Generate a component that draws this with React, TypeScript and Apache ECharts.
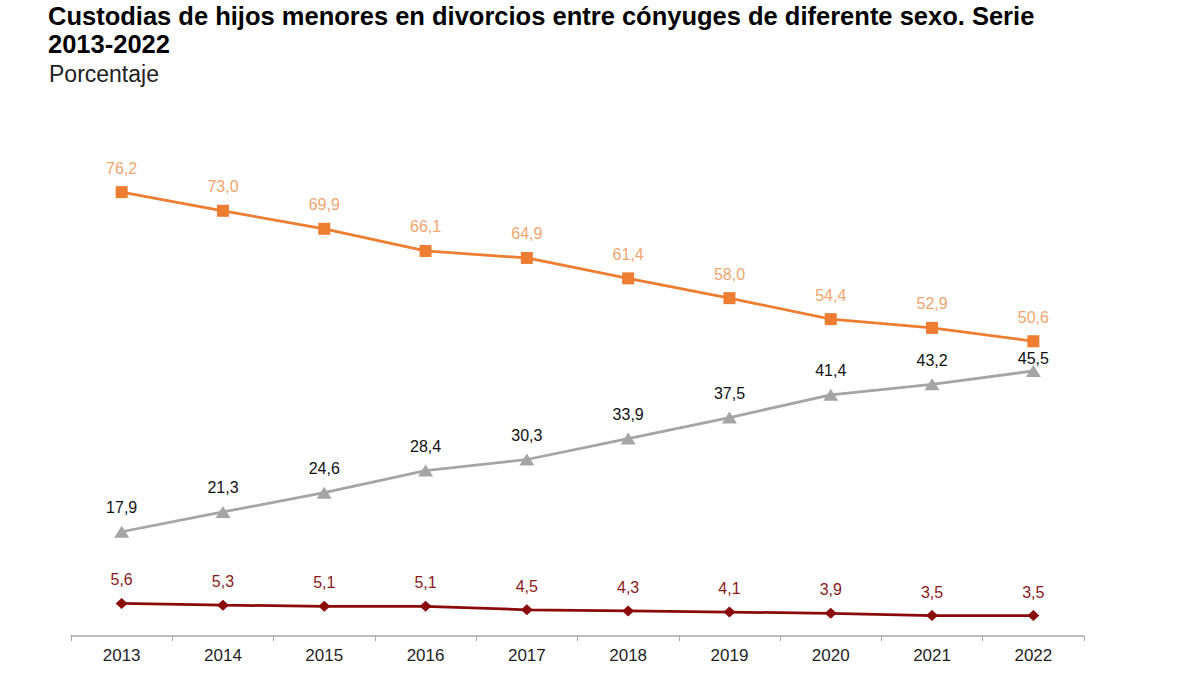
import React, { useEffect, useRef } from "react";
import * as echarts from "echarts";

const years = ["2013", "2014", "2015", "2016", "2017", "2018", "2019", "2020", "2021", "2022"];
const madre = [76.2, 73.0, 69.9, 66.1, 64.9, 61.4, 58.0, 54.4, 52.9, 50.6];
const compartida = [17.9, 21.3, 24.6, 28.4, 30.3, 33.9, 37.5, 41.4, 43.2, 45.5];
const padre = [5.6, 5.3, 5.1, 5.1, 4.5, 4.3, 4.1, 3.9, 3.5, 3.5];

const fmt = (v: number) => v.toFixed(1).replace(".", ",");
const FONT = "Liberation Sans, Arial, sans-serif";

export default function App() {
  const ref = useRef<HTMLDivElement>(null);
  useEffect(() => {
    if (!ref.current) return;
    const chart = echarts.init(ref.current, undefined, { renderer: "svg" });
    chart.setOption({
      animation: false,
      backgroundColor: "#ffffff",
      title: [
        {
          text: "Custodias de hijos menores en divorcios entre cónyuges de diferente sexo. Serie\n2013-2022",
          left: 48,
          top: 2,
          padding: 0,
          textStyle: { fontFamily: FONT, fontWeight: "bold", fontSize: 25.5, color: "#000", lineHeight: 28 },
        },
        {
          text: "Porcentaje",
          left: 49,
          top: 62,
          padding: 0,
          textStyle: { fontFamily: FONT, fontWeight: "normal", fontSize: 23, color: "#222" },
        },
      ],
      grid: { left: 71, right: 115, top: 170, bottom: 38, containLabel: false },
      xAxis: {
        type: "category",
        data: years,
        boundaryGap: true,
        axisLine: { lineStyle: { color: "#a6a6a6", width: 1.5 } },
        axisTick: { show: true, length: 5, lineStyle: { color: "#a6a6a6" } },
        axisLabel: { color: "#1f1f1f", fontSize: 17, fontFamily: FONT, margin: 11 },
      },
      yAxis: {
        type: "value",
        min: 0,
        max: 80,
        show: false,
        splitLine: { show: false },
      },
      series: [
        {
          name: "Madre",
          type: "line",
          data: madre,
          symbol: "rect",
          symbolSize: 12,
          itemStyle: { color: "#ed7d31" },
          lineStyle: { color: "#ed7d31", width: 2.75 },
          label: {
            show: true,
            position: "top",
            distance: 10,
            color: "#f0a56e",
            fontSize: 16,
            fontFamily: FONT,
            formatter: (p: any) => fmt(p.value),
          },
        },
        {
          name: "Compartida",
          type: "line",
          data: compartida.map((v, i) =>
            i === compartida.length - 1 ? { value: v, label: { distance: -2 } } : v
          ),
          symbol: "triangle",
          symbolSize: [15, 12],
          itemStyle: { color: "#a5a5a5" },
          lineStyle: { color: "#a5a5a5", width: 2.75 },
          label: {
            show: true,
            position: "top",
            distance: 10,
            color: "#111",
            fontSize: 16,
            fontFamily: FONT,
            formatter: (p: any) => fmt(p.value),
          },
        },
        {
          name: "Padre",
          type: "line",
          data: padre,
          symbol: "diamond",
          symbolSize: [12, 11],
          itemStyle: { color: "#8b0a0a" },
          lineStyle: { color: "#8b0a0a", width: 2.75 },
          label: {
            show: true,
            position: "top",
            distance: 10,
            color: "#8b1a1a",
            fontSize: 16,
            fontFamily: FONT,
            formatter: (p: any) => fmt(p.value),
          },
        },
      ],
    });
    return () => chart.dispose();
  }, []);
  return (
    <div
      ref={ref}
      style={{ position: "fixed", left: 0, top: 0, width: 1199, height: 674, background: "#fff" }}
    />
  );
}
